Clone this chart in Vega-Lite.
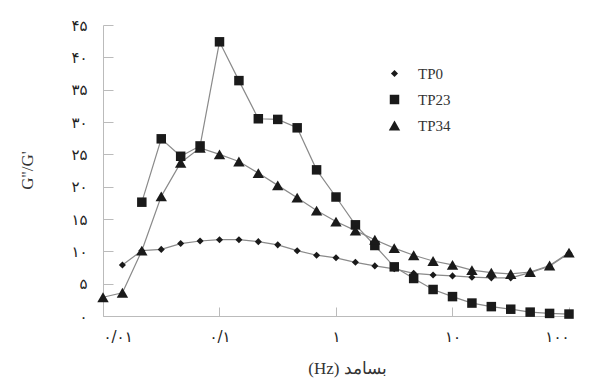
{
  "$schema": "https://vega.github.io/schema/vega-lite/v6.json",
  "width": 466,
  "height": 291,
  "autosize": {"type": "none"},
  "padding": {"left": 103, "top": 25, "right": 22, "bottom": 68},
  "background": "white",
  "config": {
    "view": {"stroke": null},
    "legend": {"labelFont": "Liberation Serif", "labelFontSize": 15, "labelColor": "#333333"}
  },
  "data": {
    "values": [
      {"f": 0.01468, "v": 7.9, "s": "TP0"},
      {"f": 0.02154, "v": 10.1, "s": "TP0"},
      {"f": 0.03162, "v": 10.3, "s": "TP0"},
      {"f": 0.04642, "v": 11.2, "s": "TP0"},
      {"f": 0.06813, "v": 11.6, "s": "TP0"},
      {"f": 0.1, "v": 11.8, "s": "TP0"},
      {"f": 0.1468, "v": 11.8, "s": "TP0"},
      {"f": 0.2154, "v": 11.5, "s": "TP0"},
      {"f": 0.3162, "v": 11.0, "s": "TP0"},
      {"f": 0.4642, "v": 10.1, "s": "TP0"},
      {"f": 0.6813, "v": 9.4, "s": "TP0"},
      {"f": 1, "v": 9.0, "s": "TP0"},
      {"f": 1.468, "v": 8.3, "s": "TP0"},
      {"f": 2.154, "v": 7.75, "s": "TP0"},
      {"f": 3.162, "v": 7.3, "s": "TP0"},
      {"f": 4.642, "v": 6.6, "s": "TP0"},
      {"f": 6.813, "v": 6.35, "s": "TP0"},
      {"f": 10, "v": 6.2, "s": "TP0"},
      {"f": 14.68, "v": 6.0, "s": "TP0"},
      {"f": 21.54, "v": 5.9, "s": "TP0"},
      {"f": 31.62, "v": 5.9, "s": "TP0"},
      {"f": 46.42, "v": 6.7, "s": "TP0"},
      {"f": 68.13, "v": 7.7, "s": "TP0"},
      {"f": 100, "v": 9.7, "s": "TP0"},
      {"f": 0.02154, "v": 17.6, "s": "TP23"},
      {"f": 0.03162, "v": 27.4, "s": "TP23"},
      {"f": 0.04642, "v": 24.7, "s": "TP23"},
      {"f": 0.06813, "v": 26.3, "s": "TP23"},
      {"f": 0.1, "v": 42.4, "s": "TP23"},
      {"f": 0.1468, "v": 36.4, "s": "TP23"},
      {"f": 0.2154, "v": 30.5, "s": "TP23"},
      {"f": 0.3162, "v": 30.4, "s": "TP23"},
      {"f": 0.4642, "v": 29.1, "s": "TP23"},
      {"f": 0.6813, "v": 22.6, "s": "TP23"},
      {"f": 1, "v": 18.4, "s": "TP23"},
      {"f": 1.468, "v": 14.1, "s": "TP23"},
      {"f": 2.154, "v": 10.9, "s": "TP23"},
      {"f": 3.162, "v": 7.6, "s": "TP23"},
      {"f": 4.642, "v": 5.8, "s": "TP23"},
      {"f": 6.813, "v": 4.1, "s": "TP23"},
      {"f": 10, "v": 3.0, "s": "TP23"},
      {"f": 14.68, "v": 2.0, "s": "TP23"},
      {"f": 21.54, "v": 1.45, "s": "TP23"},
      {"f": 31.62, "v": 1.05, "s": "TP23"},
      {"f": 46.42, "v": 0.6, "s": "TP23"},
      {"f": 68.13, "v": 0.4, "s": "TP23"},
      {"f": 100, "v": 0.3, "s": "TP23"},
      {"f": 0.01, "v": 2.9, "s": "TP34"},
      {"f": 0.01468, "v": 3.6, "s": "TP34"},
      {"f": 0.02154, "v": 10.1, "s": "TP34"},
      {"f": 0.03162, "v": 18.5, "s": "TP34"},
      {"f": 0.04642, "v": 23.7, "s": "TP34"},
      {"f": 0.06813, "v": 26.0, "s": "TP34"},
      {"f": 0.1, "v": 25.0, "s": "TP34"},
      {"f": 0.1468, "v": 23.9, "s": "TP34"},
      {"f": 0.2154, "v": 22.1, "s": "TP34"},
      {"f": 0.3162, "v": 20.2, "s": "TP34"},
      {"f": 0.4642, "v": 18.3, "s": "TP34"},
      {"f": 0.6813, "v": 16.3, "s": "TP34"},
      {"f": 1, "v": 14.6, "s": "TP34"},
      {"f": 1.468, "v": 13.2, "s": "TP34"},
      {"f": 2.154, "v": 11.8, "s": "TP34"},
      {"f": 3.162, "v": 10.5, "s": "TP34"},
      {"f": 4.642, "v": 9.4, "s": "TP34"},
      {"f": 6.813, "v": 8.5, "s": "TP34"},
      {"f": 10, "v": 7.9, "s": "TP34"},
      {"f": 14.68, "v": 7.1, "s": "TP34"},
      {"f": 21.54, "v": 6.7, "s": "TP34"},
      {"f": 31.62, "v": 6.5, "s": "TP34"},
      {"f": 46.42, "v": 6.8, "s": "TP34"},
      {"f": 68.13, "v": 7.8, "s": "TP34"},
      {"f": 100, "v": 9.8, "s": "TP34"}
    ]
  },
  "encoding": {
    "x": {
      "field": "f",
      "type": "quantitative",
      "scale": {"type": "log", "domain": [0.01, 100], "nice": false},
      "axis": {
        "values": [0.01, 0.1, 1, 10, 100],
        "labelExpr": "datum.value < 0.05 ? '۰/۰۱' : datum.value < 0.5 ? '۰/۱' : datum.value < 5 ? '۱' : datum.value < 50 ? '۱۰' : '۱۰۰'",
        "grid": false,
        "domainColor": "#bbbbbb",
        "tickColor": "#bbbbbb",
        "tickSize": -9,
        "labelPadding": 22,
        "labelFont": "DejaVu Sans",
        "labelFontSize": 15,
        "labelColor": "#222222",
        "labelBaseline": "top",
        "title": "(Hz) بسامد",
        "titleFont": "Liberation Serif",
        "titleFontSize": 17,
        "titleFontWeight": "normal",
        "titleColor": "#333333",
        "titleX": 244,
        "titleY": 52,
        "titleBaseline": "middle"
      }
    },
    "y": {
      "field": "v",
      "type": "quantitative",
      "scale": {"domain": [0, 45], "nice": false},
      "axis": {
        "values": [0, 5, 10, 15, 20, 25, 30, 35, 40, 45],
        "labelExpr": "replace(replace(replace(replace(replace(replace(datum.label,'0','۰'),'1','۱'),'2','۲'),'3','۳'),'4','۴'),'5','۵')",
        "grid": false,
        "domainColor": "#bbbbbb",
        "tickColor": "#bbbbbb",
        "tickSize": -10,
        "labelPadding": 26,
        "labelFont": "DejaVu Sans",
        "labelFontSize": 15,
        "labelColor": "#222222",
        "title": "G''/G'",
        "titleFont": "Liberation Serif",
        "titleFontSize": 17,
        "titleFontWeight": "normal",
        "titleColor": "#333333",
        "titleX": -76,
        "titleY": 145,
        "titleBaseline": "middle"
      }
    }
  },
  "layer": [
    {
      "mark": {"type": "line", "color": "#8a8a8a", "strokeWidth": 1.2},
      "encoding": {"detail": {"field": "s"}}
    },
    {
      "mark": {"type": "point", "filled": true, "color": "#1a1a1a", "opacity": 1},
      "encoding": {
        "shape": {
          "field": "s",
          "type": "nominal",
          "scale": {"domain": ["TP0", "TP23", "TP34"], "range": ["diamond", "square", "triangle-up"]},
          "legend": {
            "title": null,
            "orient": "none",
            "legendX": 284,
            "legendY": 41,
            "padding": 0,
            "labelFont": "Liberation Serif",
            "labelFontSize": 15,
            "labelColor": "#333333",
            "labelOffset": 16,
            "rowPadding": 9
          }
        },
        "size": {
          "field": "s",
          "type": "nominal",
          "scale": {"domain": ["TP0", "TP23", "TP34"], "range": [50, 130, 50]},
          "legend": {
            "title": null,
            "orient": "none",
            "legendX": 284,
            "legendY": 41,
            "padding": 0,
            "labelFont": "Liberation Serif",
            "labelFontSize": 15,
            "labelColor": "#333333",
            "labelOffset": 16,
            "rowPadding": 9
          }
        }
      }
    }
  ]
}
